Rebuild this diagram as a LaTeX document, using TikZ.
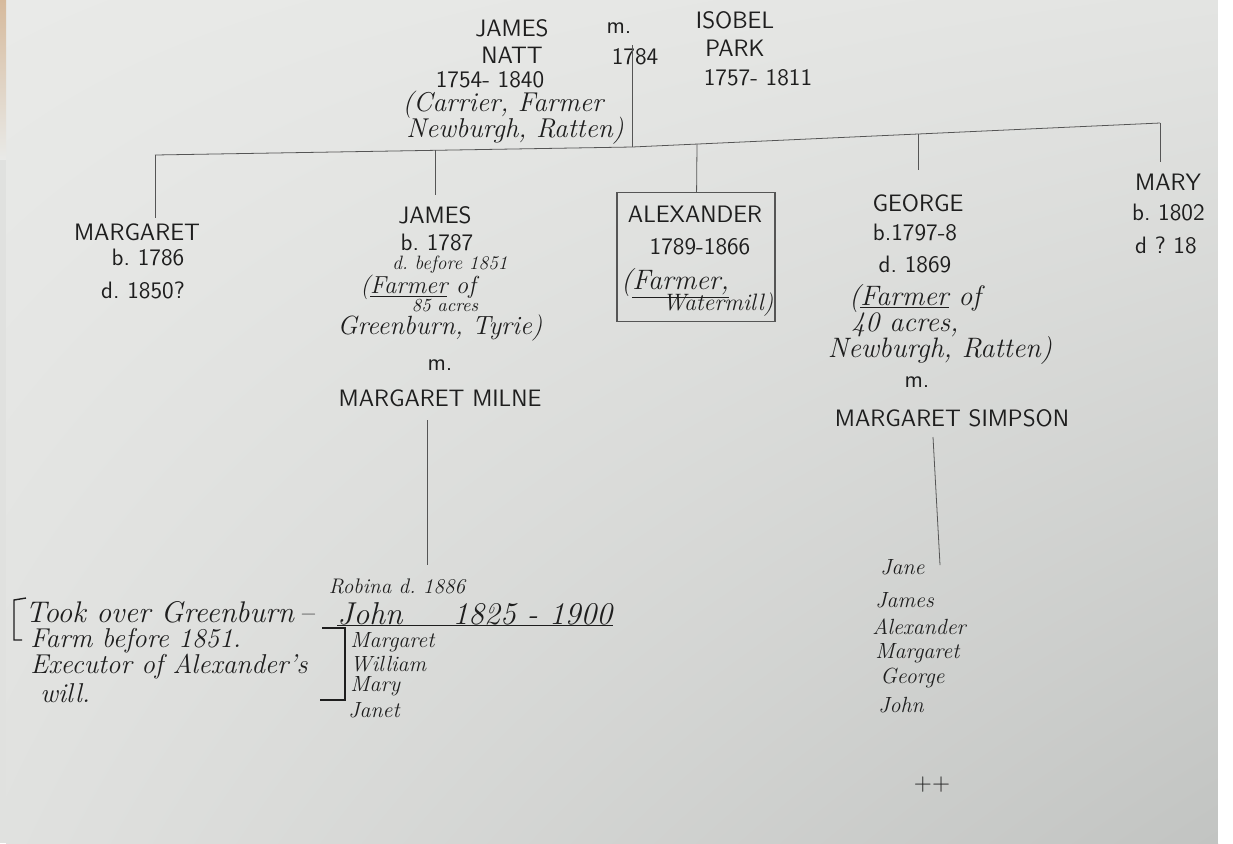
\documentclass[tikz,border=0pt]{standalone}
\usepackage{tikz}
\usetikzlibrary{positioning,shadings}
\definecolor{ink}{HTML}{1E1E1E}
\definecolor{wire}{HTML}{555555}
\definecolor{paperA}{HTML}{E9EAE8}
\definecolor{paperB}{HTML}{E3E4E2}
\definecolor{paperC}{HTML}{E0E1DF}
\definecolor{paperD}{HTML}{C2C4C2}
\tikzset{
  caps/.style={font=\sffamily\fontsize{13.5}{15}\selectfont,text=ink,inner sep=1pt},
  hand/.style={font=\itshape\fontsize{16}{18}\selectfont,text=ink,inner sep=0pt},
  small/.style={font=\itshape\fontsize{12.5}{14}\selectfont,text=ink,inner sep=0pt},
  link/.style={draw=wire,line width=0.45pt},
  pen/.style={draw=ink,line width=0.8pt}
}
\begin{document}
\begin{tikzpicture}[x=0.02cm,y=-0.02cm]
\useasboundingbox (0,0) rectangle (1233,843);
% the sheet
\shade[upper left=paperA,upper right=paperB,lower left=paperC,lower right=paperD] (6,0) rectangle (1218,843);
\shade[top color=brown!45!paperA,bottom color=paperA] (0,0) rectangle (6,160);
\fill[paperC] (0,160) rectangle (6,843);

% James Natt m. Isobel Park
\node[caps] (jw1) at (512,28) {JAMES};
\node[caps] (jw2) at (512,55) {NATT};
\node[caps] (jw3) at (490,80) {1754-\ 1840};
\node[hand,font=\itshape\fontsize{15.5}{17}\selectfont] (jw4) at (503,105) {(Carrier, Farmer};
\node[hand,font=\itshape\fontsize{15.5}{17}\selectfont] (jw5) at (515,131) {Newburgh, Ratten)};
\node[caps] (wedm) at (619,28) {m.};
\node[caps] (wedy) at (635,57) {1784};
\node[caps] (ip1) at (735,20) {ISOBEL};
\node[caps] (ip2) at (735,48) {PARK};
\node[caps] (ip3) at (758,78) {1757-\ 1811};

\coordinate (wed) at (632,45);
\coordinate (barL) at (155,155);
\coordinate (barM) at (632,147);
\coordinate (barR) at (1160,123);
\coordinate (bJam) at (435,150);
\coordinate (bAlx) at (697,144);
\coordinate (bGeo) at (918,134);
\coordinate (eMrg) at (155,218);
\coordinate (eJam) at (435,195);
\coordinate (eGeo) at (918,170);
\coordinate (eMry) at (1160,162);

\draw[link] (wed) -- (barM);
\draw[link] (barL) -- (barM) -- (barR);

% Margaret
\node[caps] (mg1) at (137,232) {MARGARET};
\node[caps] (mg2) at (148,258) {b.\ 1786};
\node[caps] (mg3) at (143,290) {d.\ 1850?};

% James
\node[caps] (jm1) at (435,215) {JAMES};
\node[caps] (jm2) at (437,243) {b.\ 1787};
\node[small,font=\itshape\fontsize{11}{12}\selectfont] (jm3) at (450,265) {d.\ before 1851};
\node[hand,font=\itshape\fontsize{14}{15}\selectfont] (jm4) at (418,287) {(\underline{Farmer} of};
\node[small,font=\itshape\fontsize{10.5}{12}\selectfont] (jm5) at (445,306) {85 acres};
\node[hand,font=\itshape\fontsize{15}{16}\selectfont] (jm6) at (440,328) {Greenburn, Tyrie)};
\node[caps] (jm7) at (440,365) {m.};
\node[caps] (jm8) at (440,398) {MARGARET MILNE};

% Alexander
\node[draw=wire,line width=0.6pt,minimum width=3.16cm,minimum height=2.58cm] (alx) at (696,257) {};
\node[caps] (ax1) at (695,214) {ALEXANDER};
\node[caps] (ax2) at (700,247) {1789-1866};
\node[hand] (ax3) at (675,283) {(\underline{Farmer,}};
\node[hand,font=\itshape\fontsize{13.5}{15}\selectfont] (ax4) at (718,305) {Watermill)};

% George
\node[caps] (gg1) at (918,203) {GEORGE};
\node[caps] (gg2) at (915,233) {b.1797-8};
\node[caps] (gg3) at (915,265) {d.\ 1869};
\node[hand] (gg4) at (915,298) {(\underline{Farmer} of};
\node[hand] (gg5) at (905,325) {40 acres,};
\node[hand] (gg6) at (940,350) {Newburgh, Ratten)};
\node[caps] (gg7) at (917,382) {m.};
\node[caps] (gg8) at (952,418) {MARGARET SIMPSON};

% Mary
\node[caps,anchor=west] (my1) at (1133,182) {MARY};
\node[caps,anchor=west] (my2) at (1130,213) {b.\ 1802};
\node[caps,anchor=west] (my3) at (1133,245) {d\ ?\ 18};

\draw[link] (barL) -- (eMrg);
\draw[link] (bJam) -- (eJam);
\draw[link] (bAlx) -- (alx);
\draw[link] (bGeo) -- (eGeo);
\draw[link] (barR) -- (eMry);

% children of James
\coordinate (mlT) at (427,420);
\coordinate (mlB) at (427,565);
\draw[link] (mlT) -- (mlB);
\node[small,font=\itshape\fontsize{12}{13}\selectfont] (rb) at (397,586) {Robina d.\ 1886};
\node[hand,anchor=west,font=\itshape\fontsize{18}{20}\selectfont] (jn) at (337,614) {\makebox[5.5cm][s]{John\hfill 1825 - 1900}};
\draw[pen] (jn.south west) -- (jn.south east);
\node[small,anchor=west] (jc1) at (350,642) {Margaret};
\node[small,anchor=west] (jc2) at (350,664) {William};
\node[small,anchor=west] (jc3) at (350,686) {Mary};
\node[small,anchor=west] (jc4) at (348,710) {Janet};

\node[hand,anchor=west,font=\itshape\fontsize{17}{19}\selectfont] (nt1) at (25,612) {Took over Greenburn\,--};
\node[hand,anchor=west,font=\itshape\fontsize{15.5}{17}\selectfont] (nt2) at (30,641) {Farm before 1851.};
\node[hand,anchor=west,font=\itshape\fontsize{15.5}{17}\selectfont] (nt3) at (30,667) {Executor of Alexander's};
\node[hand,anchor=west,font=\itshape\fontsize{15.5}{17}\selectfont] (nt4) at (40,693) {will.};
\draw[pen] (26,598) -- (14,600) -- (14,640) -- (22,640);
\draw[pen] (322,628) -- (345,628) -- (345,700) -- (320,700);

% children of George
\coordinate (smT) at (933,437);
\coordinate (smB) at (940,565);
\draw[link] (smT) -- (smB);
\node[small,anchor=west] (gc1) at (880,567) {Jane};
\node[small,anchor=west] (gc2) at (875,600) {James};
\node[small,anchor=west] (gc3) at (872,627) {Alexander};
\node[small,anchor=west] (gc4) at (875,653) {Margaret};
\node[small,anchor=west] (gc5) at (880,678) {George};
\node[small,anchor=west] (gc6) at (878,705) {John};
\node[caps] (gc7) at (932,785) {++};

\fill[white] (1218,0) rectangle (1233,843);
\end{tikzpicture}
\end{document}
